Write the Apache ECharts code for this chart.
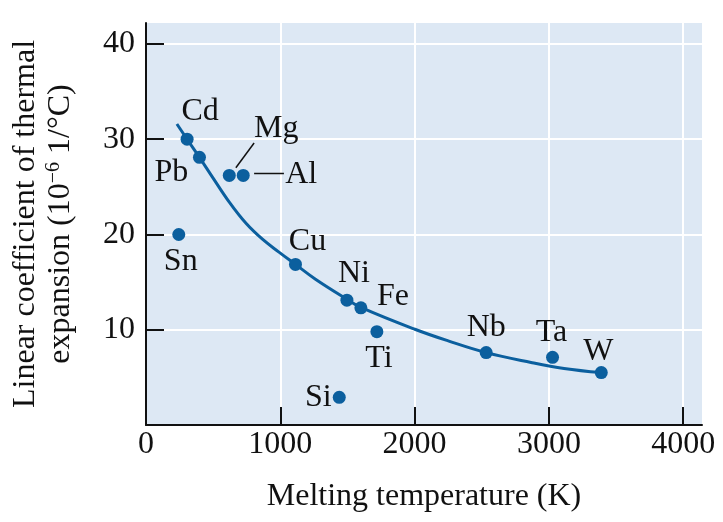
<!DOCTYPE html>
<html>
<head>
<meta charset="utf-8">
<script src="https://cdn.jsdelivr.net/npm/echarts@6/dist/echarts.min.js"></script>
<style>html,body{margin:0;padding:0;background:#fff}#c{width:723px;height:522px}</style>
</head>
<body>
<div id="c"></div>
<script>
// Data
const elements = ['Cd','Pb','Mg','Al','Sn','Cu','Ni','Fe','Ti','Si','Nb','Ta','W'];
const meltingK = [306, 398, 620, 724, 244, 1113, 1496, 1600, 1719, 1439, 2533, 3027, 3390];
const alpha    = [30.0, 28.1, 26.2, 26.2, 20.0, 16.86, 13.1, 12.3, 9.8, 2.9, 7.6, 7.1, 5.5];
// fitted curve as drawn in the picture
const curveX = [230, 306, 398, 496, 620, 743, 867, 990, 1113, 1262, 1496, 1600, 2002, 2250, 2533, 2867, 3113, 3390];
const curveY = [31.6, 30.0, 28.1, 26.0, 23.4, 21.2, 19.5, 18.15, 16.86, 15.3, 13.2, 12.35, 10.05, 8.83, 7.6, 6.57, 5.94, 5.5];
// leader lines for Mg and Al labels
const leaderMg = [[669, 27.0], [805, 29.6]];
const leaderAl = [[805, 26.4], [1027, 26.4]];
const xTicks = [0, 1000, 2000, 3000, 4000];
const yTicks = [10, 20, 30, 40];

const FONT = '"Liberation Serif","Times New Roman",serif';
const BLUE = '#0b5f9e';
const labelOffsets = {
  Cd:[13,-28], Pb:[-28,15], Mg:[47,-47], Al:[58,-1], Sn:[2,27], Cu:[12,-23],
  Ni:[7,-27], Fe:[32,-11], Ti:[2,27], Si:[-21,0], Nb:[0,-25], Ta:[-1,-25], W:[-3,-21]
};

const scatterData = elements.map((n, i) => ({
  value: [meltingK[i], alpha[i]],
  name: n,
  label: { offset: labelOffsets[n] }
}));

const chart = echarts.init(document.getElementById('c'));
chart.setOption({
  animation: false,
  backgroundColor: '#ffffff',
  grid: { left: 143, right: 21, top: 23, bottom: 97, show: true, backgroundColor: '#dde8f4', borderWidth: 0 },
  xAxis: {
    type: 'value', min: 0, max: 4140, interval: 1000,
    name: 'Melting temperature (K)', nameLocation: 'middle', nameGap: 56,
    nameTextStyle: { fontFamily: FONT, fontSize: 32, color: '#111' },
    axisLine: { show: true, lineStyle: { color: '#111', width: 2 } },
    axisTick: { show: true, inside: true, length: 18, lineStyle: { color: '#111', width: 2 }, customValues: xTicks.slice(1) },
    axisLabel: { fontFamily: FONT, fontSize: 32, color: '#111', margin: 4, customValues: xTicks, formatter: v => String(v) },
    splitLine: { show: true, lineStyle: { color: '#ffffff', width: 2 } }
  },
  yAxis: {
    type: 'value', min: 0, max: 42.2, interval: 10,
    name: 'Linear coefficient of thermal\nexpansion (10{sup|−6} 1/°C)',
    nameLocation: 'middle', nameGap: 68, nameRotate: 90,
    nameTextStyle: {
      fontFamily: FONT, fontSize: 32, color: '#111', lineHeight: 35,
      rich: { sup: { fontFamily: FONT, fontSize: 20, color: '#111', padding: [0, 0, 14, 0] } }
    },
    axisLine: { show: true, lineStyle: { color: '#111', width: 2 } },
    axisTick: { show: true, inside: true, length: 18, lineStyle: { color: '#111', width: 2 }, customValues: yTicks },
    axisLabel: { fontFamily: FONT, fontSize: 32, color: '#111', margin: 11, customValues: yTicks, formatter: v => String(v) },
    splitLine: { show: true, lineStyle: { color: '#ffffff', width: 2 } }
  },
  series: [
    {
      type: 'line', data: curveX.map((x, i) => [x, curveY[i]]), smooth: 0.4,
      showSymbol: false, lineStyle: { color: BLUE, width: 3 }, z: 2
    },
    {
      type: 'line', data: leaderMg, showSymbol: false, lineStyle: { color: '#111', width: 1.5 }, z: 2
    },
    {
      type: 'line', data: leaderAl, showSymbol: false, lineStyle: { color: '#111', width: 1.5 }, z: 2
    },
    {
      type: 'scatter', data: scatterData, symbolSize: 13, itemStyle: { color: BLUE, opacity: 1 }, z: 3,
      label: {
        show: true, position: 'inside', formatter: '{b}',
        fontFamily: FONT, fontSize: 32, color: '#111'
      }
    }
  ]
});
</script>
</body>
</html>
